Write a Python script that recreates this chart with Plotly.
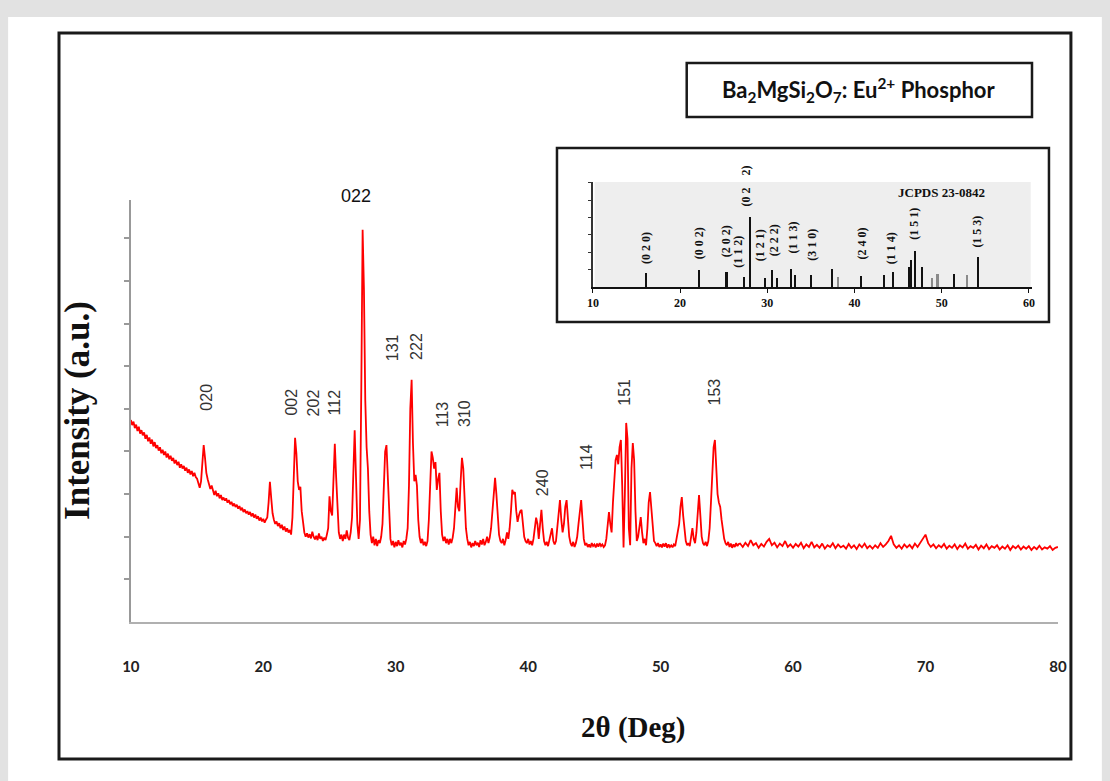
import numpy as np
import plotly.graph_objects as go

# ---------------- data ----------------
two_theta_fine = np.round(np.arange(460) * 0.1 + 10.0, 1)   # 10.0 ... 55.9
intensity_fine = [
    4.74, 4.62, 4.70, 4.55, 4.63, 4.48, 4.58, 4.42, 4.50, 4.38,
    4.45, 4.30, 4.39, 4.24, 4.33, 4.18, 4.28, 4.12, 4.22, 4.08,
    4.15, 4.02, 4.10, 3.96, 4.04, 3.92, 4.00, 3.86, 3.95, 3.82,
    3.90, 3.78, 3.85, 3.72, 3.80, 3.68, 3.76, 3.62, 3.70, 3.60,
    3.66, 3.55, 3.62, 3.50, 3.58, 3.46, 3.54, 3.42, 3.50, 3.40,
    3.36, 3.25, 3.15, 3.30, 3.75, 4.15, 3.85, 3.50, 3.35, 3.20,
    3.12, 3.20, 3.05, 2.98, 3.08, 2.95, 3.02, 2.90, 2.98, 2.86,
    2.92, 2.85, 2.90, 2.80, 2.86, 2.76, 2.82, 2.72, 2.78, 2.70,
    2.75, 2.66, 2.72, 2.62, 2.68, 2.58, 2.64, 2.55, 2.60, 2.52,
    2.58, 2.48, 2.55, 2.45, 2.52, 2.42, 2.48, 2.38, 2.45, 2.36,
    2.42, 2.33, 2.40, 2.45, 2.80, 3.29, 2.90, 2.55, 2.40, 2.30,
    2.36, 2.25, 2.32, 2.20, 2.28, 2.16, 2.24, 2.12, 2.20, 2.10,
    2.16, 2.05, 2.45, 3.70, 4.32, 3.95, 3.30, 3.10, 3.17, 2.60,
    2.25, 2.10, 2.00, 2.08, 1.98, 2.06, 1.96, 2.12, 2.00, 1.94,
    2.02, 1.92, 2.08, 1.95, 2.00, 1.90, 1.98, 1.92, 2.05, 2.20,
    2.95, 2.60, 2.50, 3.30, 4.18, 3.40, 2.50, 2.10, 1.95, 2.05,
    1.90, 2.05, 1.95, 2.15, 1.98, 1.92, 2.10, 2.45, 3.50, 4.50,
    3.40, 2.30, 1.95, 2.40, 5.50, 9.20, 7.80, 5.20, 4.10, 3.60,
    2.60, 2.05, 1.85, 2.00, 1.80, 1.95, 1.78, 1.92, 1.85, 2.00,
    2.30, 3.20, 4.00, 4.15, 3.30, 2.40, 1.95, 1.80, 1.90, 1.75,
    1.88, 1.78, 1.92, 1.80, 1.86, 1.75, 1.90, 1.82, 1.95, 2.20,
    3.20, 5.00, 5.68, 4.20, 3.30, 3.45, 3.20, 2.40, 2.00, 1.85,
    1.95, 1.80, 1.88, 1.78, 1.90, 2.40, 3.40, 4.00, 3.85, 3.60,
    3.75, 3.10, 3.35, 3.50, 2.60, 2.05, 1.90, 2.00, 1.85, 1.95,
    1.82, 1.95, 1.85, 1.98, 2.20, 2.80, 3.15, 2.70, 2.60, 3.30,
    3.85, 3.60, 2.80, 2.20, 1.95, 1.80, 1.88, 1.75, 1.85, 1.78,
    1.90, 1.80, 1.86, 1.76, 1.92, 1.82, 1.95, 1.80, 1.88, 2.00,
    1.85, 1.98, 2.20, 2.60, 3.10, 3.38, 3.00, 2.40, 2.05, 1.90,
    1.85, 1.95, 1.80, 1.92, 2.10, 1.95, 2.20, 2.60, 3.10, 3.00,
    3.05, 2.60, 2.35, 2.50, 2.60, 2.63, 2.30, 2.00, 1.90, 1.85,
    1.95, 1.82, 1.90, 1.80, 1.95, 2.20, 2.45, 2.30, 1.95, 2.30,
    2.63, 2.20, 1.90, 1.80, 1.88, 1.78, 1.92, 2.05, 2.20, 1.90,
    1.82, 1.90, 2.20, 2.60, 2.86, 2.40, 2.10, 2.30, 2.70, 2.86,
    2.50, 2.00, 1.85, 1.78, 1.88, 1.76, 1.85, 2.00, 2.30, 2.60,
    2.86, 2.40, 1.95, 1.80, 1.85, 1.76, 1.82, 1.75, 1.85, 1.78,
    1.82, 1.75, 1.84, 1.77, 1.85, 1.78, 1.82, 1.76, 1.80, 1.95,
    2.20, 2.58, 2.30, 2.10, 2.80, 3.40, 3.80, 3.92, 3.70, 4.10,
    4.27, 3.20, 1.75, 3.00, 4.67, 4.30, 2.20, 1.80, 3.60, 4.20,
    3.80, 2.60, 1.90, 2.00, 2.20, 2.46, 2.10, 1.85, 1.95, 1.80,
    2.20, 2.80, 3.05, 2.60, 2.10, 1.90, 1.85, 1.78, 1.85, 1.76,
    1.82, 1.75, 1.84, 1.77, 1.85, 1.74, 1.82, 1.76, 1.80, 1.75,
    1.82, 1.78, 1.95, 2.10, 2.30, 2.70, 2.93, 2.50, 2.10, 1.90,
    1.80, 1.85, 1.78, 2.00, 2.20, 1.95, 1.85, 2.10, 2.60, 2.98,
    2.50, 2.00, 1.85, 1.80, 1.88, 1.78, 1.90, 2.20, 2.80, 3.40,
    4.10, 4.27, 3.60, 3.00, 2.80, 2.70, 2.40, 2.10, 1.95, 1.85,
    1.80, 1.88, 1.76, 1.84, 1.74, 1.82, 1.76, 1.85, 1.78, 1.83,
]
two_theta_coarse = np.round(np.arange(121) * 0.2 + 56.0, 1)  # 56.0 ... 80.0
intensity_coarse = [
    1.84, 1.76, 1.86, 1.78, 1.92, 1.80, 1.85, 1.74, 1.83, 1.77,
    1.88, 1.95, 1.80, 1.86, 1.75, 1.84, 1.78, 1.90, 1.76, 1.82,
    1.74, 1.83, 1.77, 1.86, 1.73, 1.82, 1.76, 1.88, 1.75, 1.81,
    1.74, 1.84, 1.72, 1.80, 1.76, 1.85, 1.73, 1.82, 1.75, 1.79,
    1.72, 1.83, 1.74, 1.80, 1.71, 1.82, 1.75, 1.84, 1.73, 1.79,
    1.72, 1.80, 1.74, 1.85, 1.76, 1.82, 1.90, 2.02, 1.82, 1.74,
    1.80, 1.72, 1.82, 1.75, 1.81, 1.73, 1.84, 1.76, 1.86, 1.95,
    2.05, 1.85, 1.76, 1.82, 1.73, 1.80, 1.75, 1.83, 1.72, 1.79,
    1.74, 1.82, 1.71, 1.80, 1.75, 1.84, 1.72, 1.78, 1.74, 1.81,
    1.70, 1.79, 1.73, 1.82, 1.71, 1.78, 1.74, 1.80, 1.70, 1.77,
    1.72, 1.80, 1.69, 1.78, 1.73, 1.79, 1.70, 1.77, 1.72, 1.78,
    1.69, 1.76, 1.71, 1.79, 1.70, 1.75, 1.72, 1.78, 1.69, 1.74,
    1.76,
]

x_ticks = [10, 20, 30, 40, 50, 60, 70, 80]
peak_labels = ["020", "002", "202", "112", "131", "222", "113", "310", "240", "114", "151", "153"]
peak_label_theta = [15.73, 22.13, 23.79, 25.37, 29.82, 31.55, 33.59, 35.24, 41.05, 44.36, 47.30, 54.08]
peak_label_level = [5.28, 5.16, 5.14, 5.16, 6.43, 6.46, 4.88, 4.88, 3.26, 3.87, 5.40, 5.40]
main_peak_label = "022"

# JCPDS 23-0842 reference pattern (inset)
jcpds_theta = [16.1, 22.2, 25.3, 27.3, 27.96, 29.7, 30.5, 31.1, 32.7, 33.2, 35.0, 37.4, 38.1,
               40.7, 43.4, 44.4, 46.2, 46.5, 46.9, 47.7, 48.9, 49.5, 51.4, 52.9, 54.1]
jcpds_height = [14, 17, 15, 10, 70, 9, 17, 9, 18, 12, 12, 18, 10,
                11, 12, 15, 20, 27, 36, 20, 9, 13, 13, 12, 30]
jcpds_labels = ["(0 2 0)", "(0 0 2)", "(2 0 2)", "(1 1 2)", "(0 2    2)", "(1 2 1)", "(2 2 2)",
                "(1 1 3)", "(3 1 0)", "(2 4 0)", "(1 1 4)", "(1 5 1)", "(1 5 3)"]
jcpds_label_theta = [16.1, 22.2, 25.3, 26.6, 27.6, 29.2, 30.8, 32.9, 35.1, 40.8, 44.2, 46.8, 54.0]
jcpds_label_level = [39, 44, 46, 35, 101, 42, 47, 49, 42, 43, 39, 63, 55]
inset_ticks = [10, 20, 30, 40, 50, 60]

# ---------------- layout helpers ----------------
W, H = 1110, 781
# the page is photographed slightly squeezed horizontally (x' = 0.9858*x + 7.9);
# place elements so that they land on the reference pixel positions
SX, OX = 0.9858, 7.9
def px(x):
    return ((x - OX) / SX) / W
def py(y):
    return 1 - y / H

stick_colors = ["#111111"] * len(jcpds_theta)
for i, t in enumerate(jcpds_theta):
    if t in (38.1, 48.9, 49.5, 52.9):
        stick_colors[i] = "#8a8a8a"

fig = go.Figure()
fig.add_trace(go.Scatter(
    x=list(two_theta_fine) + list(two_theta_coarse),
    y=intensity_fine + intensity_coarse,
    mode="lines", line=dict(color="#ff0000", width=1.8),
    xaxis="x", yaxis="y", showlegend=False, hoverinfo="skip"))

fig.add_trace(go.Bar(
    x=jcpds_theta, y=jcpds_height, width=0.25,
    marker=dict(color=stick_colors, line=dict(width=0)),
    xaxis="x2", yaxis="y2", showlegend=False, hoverinfo="skip"))

shapes = [
    dict(type="rect", xref="paper", yref="paper", x0=px(7), x1=px(1103), y0=py(781), y1=py(17),
         fillcolor="white", line=dict(width=0), layer="below"),
    dict(type="rect", xref="paper", yref="paper", x0=px(58), x1=px(1072), y0=py(759), y1=py(33),
         line=dict(color="#1a1a1a", width=3), layer="below"),
    dict(type="rect", xref="paper", yref="paper", x0=px(687), x1=px(1033), y0=py(117), y1=py(63),
         fillcolor="white", line=dict(color="#1a1a1a", width=2.5), layer="below"),
    dict(type="rect", xref="paper", yref="paper", x0=px(557), x1=px(1050), y0=py(322), y1=py(148),
         fillcolor="white", line=dict(color="#1a1a1a", width=2.5), layer="below"),
    dict(type="rect", xref="x2", yref="y2", x0=10.2, x1=60.2, y0=0, y1=105,
         fillcolor="#eeeeee", line=dict(width=0), layer="below"),
]

C = dict(xanchor="center", yanchor="middle", showarrow=False)
annotations = []
for lab, t, lv in zip(peak_labels, peak_label_theta, peak_label_level):
    annotations.append(dict(x=t, y=lv, xref="x", yref="y", text=lab, textangle=-90,
                            font=dict(family="Liberation Sans, Arial", size=16, color="#333333"), **C))
annotations.append(dict(x=px(356), y=py(196), xref="paper", yref="paper", text=main_peak_label,
                        font=dict(family="Liberation Sans, Arial", size=18, color="#111111"), **C))
for lab, t, lv in zip(jcpds_labels, jcpds_label_theta, jcpds_label_level):
    annotations.append(dict(x=t, y=lv, xref="x2", yref="y2", text="<b>" + lab + "</b>", textangle=-90,
                            font=dict(family="Liberation Serif, Times New Roman", size=12, color="#111111"),
                            **C))
annotations += [
    dict(x=px(942), y=py(193), xref="paper", yref="paper", text="<b>JCPDS 23-0842</b>",
         font=dict(family="Liberation Serif, Times New Roman", size=13, color="#111111"), **C),
    dict(x=px(859), y=py(90), xref="paper", yref="paper",
         text="Ba<sub>2</sub>MgSi<sub>2</sub>O<sub>7</sub>: Eu<sup>2+</sup> Phosphor",
         font=dict(family="Lato, Open Sans", size=22, color="#111111", weight="bold"), **C),
    dict(x=px(634), y=py(727), xref="paper", yref="paper", text="<b>2θ (Deg)</b>",
         font=dict(family="Liberation Serif, Times New Roman", size=29, color="#111111"), **C),
    dict(x=px(77), y=py(410), xref="paper", yref="paper", text="<b>Intensity (a.u.)</b>", textangle=-90,
         font=dict(family="Liberation Serif, Times New Roman", size=35, color="#111111"), **C),
]

fig.update_layout(
    width=W, height=H, margin=dict(l=0, r=0, t=0, b=0), autosize=False,
    paper_bgcolor="#e2e2e2", plot_bgcolor="rgba(0,0,0,0)",
    shapes=shapes, annotations=annotations, bargap=0,
    xaxis=dict(domain=[px(130), px(1059)], range=[10, 80], tickvals=x_ticks, ticks="",
               showgrid=False, zeroline=False, showline=True, linecolor="#b0b0b0", linewidth=1.5,
               ticklabelstandoff=30,
               tickfont=dict(family="Lato, Open Sans", size=15, color="#222222", weight="bold"),
               anchor="y"),
    yaxis=dict(domain=[py(622), py(200)], range=[0, 9.9], tickvals=[1, 2, 3, 4, 5, 6, 7, 8, 9],
               ticks="outside", ticklen=5, tickcolor="#999999", tickwidth=1.5, showticklabels=False,
               showgrid=False, zeroline=False, showline=True, linecolor="#999999", linewidth=2,
               anchor="x"),
    xaxis2=dict(domain=[px(593), px(1033)], range=[10, 60.35], tickvals=inset_ticks, ticks="outside",
                ticklen=4, tickcolor="#111111", showgrid=False, zeroline=False, showline=True,
                linecolor="#111111", linewidth=2, anchor="y2",
                tickfont=dict(family="Liberation Serif, Times New Roman", size=12, color="#111111",
                              weight="bold")),
    yaxis2=dict(domain=[py(287), py(182)], range=[0, 105], tickvals=[17.4, 34.8, 52.2, 69.6, 87, 104.4],
                ticks="outside", ticklen=3, tickcolor="#333333", showticklabels=False, showgrid=False,
                zeroline=False, showline=True, linecolor="#333333", linewidth=1.5, anchor="x2"),
)

fig.write_html("out.html")
